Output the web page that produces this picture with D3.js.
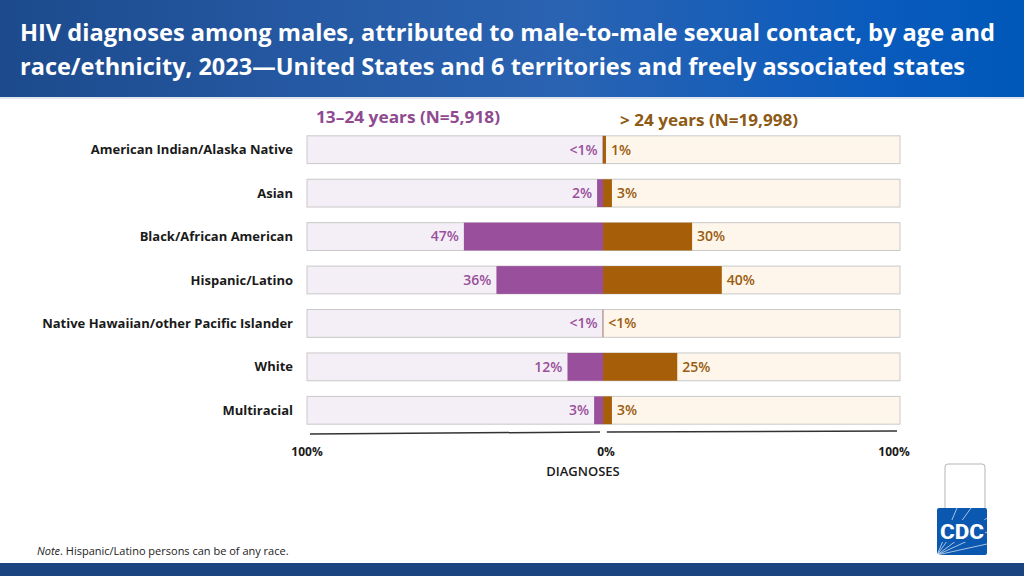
<!DOCTYPE html>
<html lang="en">
  <head>
    <meta charset="UTF-8" />
    <title>HIV diagnoses among males, MMSC, by age and race/ethnicity</title>
    <script src="https://d3js.org/d3.v7.min.js"></script>
    <style>
      body { margin: 0; background: #fff; }
      svg { display: block; font-family: "Open Sans", "Noto Sans", sans-serif; }
    </style>
  </head>
  <body>
    <div id="chart"></div>

    <script>
      // categories (top to bottom)
      const categories = [
        "American Indian/Alaska Native",
        "Asian",
        "Black/African American",
        "Hispanic/Latino",
        "Native Hawaiian/other Pacific Islander",
        "White",
        "Multiracial",
      ];

      // 13–24 years, percent of diagnoses (<1% drawn as a tiny value)
      const youngValues = [0.1, 2, 47, 36, 0.1, 12, 3];
      const youngLabels = ["<1%", "2%", "47%", "36%", "<1%", "12%", "3%"];

      // > 24 years
      const olderValues = [1, 3, 30, 40, 0.1, 25, 3];
      const olderLabels = ["1%", "3%", "30%", "40%", "<1%", "25%", "3%"];

      const axisTicks = [100, 0, 100];

      const W = 1024, H = 576;
      const center = 603;

      const svg = d3.select("#chart").append("svg")
        .attr("width", W).attr("height", H);

      // header band
      const defs = svg.append("defs");
      const grad = defs.append("linearGradient").attr("id", "hdr")
        .attr("x1", "0%").attr("x2", "100%").attr("y1", "0%").attr("y2", "0%");
      grad.append("stop").attr("offset", "0%").attr("stop-color", "#1c4a8c");
      grad.append("stop").attr("offset", "30%").attr("stop-color", "#2559a3");
      grad.append("stop").attr("offset", "55%").attr("stop-color", "#2a63b2");
      grad.append("stop").attr("offset", "85%").attr("stop-color", "#0a5bbd");
      grad.append("stop").attr("offset", "100%").attr("stop-color", "#0058b8");

      svg.append("rect").attr("width", W).attr("height", 97).attr("fill", "url(#hdr)");
      svg.append("rect").attr("y", 97).attr("width", W).attr("height", 2).attr("fill", "#dfe6ef");

      const titleLines = [
        "HIV diagnoses among males, attributed to male-to-male sexual contact, by age and",
        "race/ethnicity, 2023\u2014United States and 6 territories and freely associated states",
      ];
      const titleWidths = [975, 945];
      svg.selectAll("text.title").data(titleLines).join("text")
        .attr("class", "title")
        .attr("x", 20)
        .attr("y", (d, i) => 41 + i * 34)
        .attr("fill", "#fff")
        .attr("font-size", 24)
        .attr("font-weight", 700)
        .attr("textLength", (d, i) => titleWidths[i])
        .attr("lengthAdjust", "spacingAndGlyphs")
        .text((d) => d);

      // bottom band
      svg.append("rect").attr("y", 563).attr("width", W).attr("height", 13).attr("fill", "#1a4480");

      // scales
      const xLeft = d3.scaleLinear().domain([0, 100]).range([center, 307]);
      const xRight = d3.scaleLinear().domain([0, 100]).range([center, 900]);
      const y = d3.scaleBand().domain(categories).range([128, 432]).paddingInner(0.36).paddingOuter(0.18);

      const colors = {
        youngBar: "#9a4f9c", youngBg: "#f4eff6", youngText: "#9a4f9c",
        oldBar: "#a65f08", oldBg: "#fef6ea", oldText: "#9a5c10",
        border: "#c9c9c9",
      };

      // group headers
      svg.append("text").attr("x", 316).attr("y", 123)
        .attr("font-size", 16).attr("font-weight", 700).attr("fill", "#8f4a91")
        .attr("textLength", 184).attr("lengthAdjust", "spacingAndGlyphs")
        .text("13\u201324 years (N=5,918)");
      svg.append("text").attr("x", 620).attr("y", 126)
        .attr("font-size", 16).attr("font-weight", 700).attr("fill", "#8d5a14")
        .attr("textLength", 178).attr("lengthAdjust", "spacingAndGlyphs")
        .text("> 24 years (N=19,998)");

      const rows = svg.append("g").selectAll("g").data(categories).join("g")
        .attr("transform", (d) => `translate(0,${y(d)})`);

      // backgrounds
      rows.append("rect")
        .attr("x", xLeft(100)).attr("width", xLeft(0) - xLeft(100))
        .attr("height", y.bandwidth())
        .attr("fill", colors.youngBg).attr("stroke", colors.border).attr("stroke-width", 1);
      rows.append("rect")
        .attr("x", xRight(0)).attr("width", xRight(100) - xRight(0))
        .attr("height", y.bandwidth())
        .attr("fill", colors.oldBg).attr("stroke", colors.border).attr("stroke-width", 1);

      // bars
      rows.append("rect")
        .attr("x", (d, i) => xLeft(youngValues[i]))
        .attr("width", (d, i) => xLeft(0) - xLeft(youngValues[i]))
        .attr("height", y.bandwidth())
        .attr("fill", colors.youngBar);
      rows.append("rect")
        .attr("x", xRight(0))
        .attr("width", (d, i) => xRight(olderValues[i]) - xRight(0))
        .attr("height", y.bandwidth())
        .attr("fill", colors.oldBar);

      // value labels
      rows.append("text")
        .attr("x", (d, i) => xLeft(youngValues[i]) - 5)
        .attr("y", y.bandwidth() / 2)
        .attr("dy", "0.35em")
        .attr("text-anchor", "end")
        .attr("font-size", 14).attr("font-weight", 600)
        .attr("fill", colors.youngText)
        .text((d, i) => youngLabels[i]);
      rows.append("text")
        .attr("x", (d, i) => xRight(olderValues[i]) + 5)
        .attr("y", y.bandwidth() / 2)
        .attr("dy", "0.35em")
        .attr("font-size", 14).attr("font-weight", 600)
        .attr("fill", colors.oldText)
        .text((d, i) => olderLabels[i]);

      // category labels
      rows.append("text")
        .attr("x", 293)
        .attr("y", y.bandwidth() / 2)
        .attr("dy", "0.35em")
        .attr("text-anchor", "end")
        .attr("font-size", 13).attr("font-weight", 700)
        .attr("fill", "#1a1a1a")
        .text((d) => d);

      // axis lines
      svg.append("line").attr("x1", xLeft(99)).attr("x2", xLeft(1))
        .attr("y1", 434).attr("y2", 432)
        .attr("stroke", "#333").attr("stroke-width", 1.5);
      svg.append("line").attr("x1", xRight(1.3)).attr("x2", xRight(99))
        .attr("y1", 432).attr("y2", 431)
        .attr("stroke", "#333").attr("stroke-width", 1.5);

      const tickX = [xLeft(100), center + 3, xRight(98)];
      svg.selectAll("text.tick").data(axisTicks).join("text")
        .attr("class", "tick")
        .attr("x", (d, i) => tickX[i])
        .attr("y", 456)
        .attr("text-anchor", "middle")
        .attr("font-size", 12).attr("font-weight", 700)
        .attr("fill", "#1a1a1a")
        .text((d) => d + "%");

      svg.append("text").attr("x", center - 20).attr("y", 476)
        .attr("text-anchor", "middle")
        .attr("font-size", 13).attr("font-weight", 600)
        .attr("fill", "#1a1a1a")
        .text("DIAGNOSES");

      // note
      const note = svg.append("text").attr("x", 37).attr("y", 555)
        .attr("font-size", 11).attr("fill", "#222");
      note.append("tspan").attr("font-style", "italic").text("Note");
      note.append("tspan").text(". Hispanic/Latino persons can be of any race.");

      // CDC logo
      svg.append("rect").attr("x", 945).attr("y", 464).attr("width", 40).attr("height", 50)
        .attr("rx", 3).attr("fill", "#fff").attr("stroke", "#b5b5b5");
      const logo = svg.append("g").attr("transform", "translate(937,508)");
      logo.append("rect").attr("width", 50).attr("height", 47).attr("rx", 2).attr("fill", "#0b58b0");
      [[0, 47, 20, 0], [0, 47, 34, 0], [0, 47, 50, 10], [0, 47, 50, 24], [0, 47, 50, 36]].forEach((l) => {
        logo.append("line").attr("x1", l[0]).attr("y1", l[1]).attr("x2", l[2]).attr("y2", l[3])
          .attr("stroke", "#fff").attr("stroke-width", 0.8).attr("opacity", 0.8);
      });
      logo.append("rect").attr("x", 2).attr("y", 12).attr("width", 46).attr("height", 22).attr("fill", "#0b58b0");
      logo.append("text").attr("x", 25).attr("y", 31).attr("text-anchor", "middle")
        .attr("font-size", 21).attr("font-weight", 800).attr("fill", "#fff")
        .attr("font-family", "Roboto, sans-serif")
        .attr("textLength", 44).attr("lengthAdjust", "spacingAndGlyphs")
        .text("CDC");
    </script>
  </body>
</html>
